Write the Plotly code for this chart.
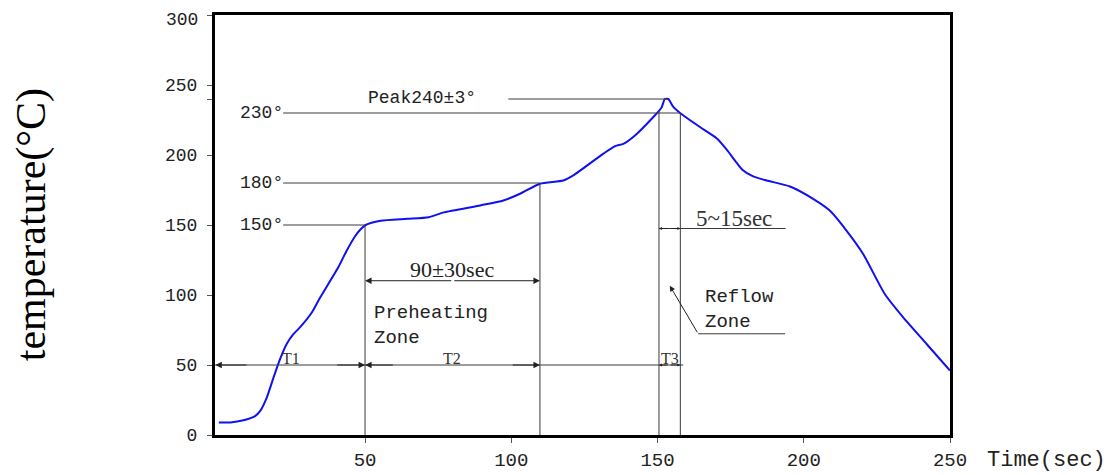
import plotly.graph_objects as go

# ---- data ----
time_s = [0, 4, 8.4, 12.4, 14.1, 16.4, 18.7, 20.9, 23.2, 25.5, 27.8, 31.8, 34.6, 40.9, 43.8,
          46.6, 48.5, 50.2, 55.3, 64.4, 71.8, 76.9, 89.4, 97.3, 103, 109.8, 117.8, 121.2,
          131.5, 135.5, 138.3, 142.3, 148.5, 151.4, 152.5, 153.7, 155.4, 157.7, 164.5,
          170.2, 173.6, 176.5, 179, 182.7, 187.3, 195.3, 203.2, 208.9, 214.6, 220.3,
          227.7, 234, 242, 250]
temp_c = [9, 9, 10.5, 13.5, 17, 26.7, 41, 54, 65, 72, 77, 87.5, 98, 120, 132,
          142, 147, 150, 153, 154.4, 155.6, 159, 164, 167.5, 172.3, 179.5, 181.8, 185.4,
          201, 206.4, 208, 214, 227, 234, 240, 240, 234.3, 230, 220,
          212, 204, 196, 189.5, 184.7, 181.8, 177.5, 168.7, 160.3, 146, 129.3,
          100.7, 84, 65, 46]

x_tick_vals = [50, 100, 150, 200, 250]
x_tick_text = ["50", "100", "150", "200", "250"]
y_tick_vals = [0, 50, 100, 150, 200, 240, 250, 300]
y_tick_text = ["0", "50", "100", "150", "200", "", "250", ""]
y_top_value = 300
y_top_label = "300"

level_temps = [150, 180, 230]
level_labels = ["150°", "180°", "230°"]
level_ends = [50, 109.8, 157.8]
peak_temp = 240
zone_bounds = [50, 109.8, 150.5, 157.8]

LINE = "#3a3a3a"
CAD = "Liberation Mono"
SERIF = "Liberation Serif"

fig = go.Figure()
fig.add_trace(go.Scatter(x=time_s, y=temp_c, mode="lines",
                         line=dict(color="#1010f0", width=2, shape="spline", smoothing=0.6),
                         hoverinfo="skip", showlegend=False))

shapes = []
annotations = []

def hline(x0, x1, y):
    shapes.append(dict(type="line", xref="x", yref="y", x0=x0, x1=x1, y0=y, y1=y,
                       line=dict(color=LINE, width=1)))

def vline(x, y0, y1):
    shapes.append(dict(type="line", xref="x", yref="y", x0=x, x1=x, y0=y0, y1=y1,
                       line=dict(color=LINE, width=1)))

def arrow(x_tip, x_from, y, size=1.3):
    annotations.append(dict(x=x_tip, y=y, ax=x_from, ay=y, xref="x", yref="y",
                            axref="x", ayref="y", text="", showarrow=True,
                            arrowhead=2, arrowsize=size, arrowwidth=1, arrowcolor="#222",
                            standoff=0, startstandoff=0))

def text(x, y, s, font, size, xanchor="center", yanchor="middle", align="center", color="#222"):
    annotations.append(dict(x=x, y=y, xref="x", yref="y", text=s, showarrow=False,
                            xanchor=xanchor, yanchor=yanchor, align=align,
                            font=dict(family=font, size=size, color=color)))

# level lines and labels
label_x = 22
for t, lab, xe in zip(level_temps, level_labels, level_ends):
    hline(label_x, xe, t)
    text(label_x + 0.5, t, lab, CAD, 18, xanchor="right")

# peak
hline(99, 153.3, peak_temp)
text(69.6, peak_temp + 1, "Peak240±3°", CAD, 18)

# vertical bounds
vline(zone_bounds[0], 0, 150)
vline(zone_bounds[1], 0, 180)
vline(zone_bounds[2], 0, 231)
vline(zone_bounds[3], 0, 230)

# T dimension line at 50
hline(-2, zone_bounds[3] + 1, 50)
arrow(-1.2, 10, 50)
arrow(zone_bounds[0], 40, 50)
arrow(zone_bounds[0], 60, 50)
arrow(zone_bounds[1], 100, 50)
arrow(zone_bounds[2], 154, 50, 0.6)
arrow(zone_bounds[3], 154, 50, 0.6)
text(24.8, 54.5, "T1", SERIF, 16, color="#333")
text(79.7, 54.5, "T2", SERIF, 16, color="#333")
text(154.1, 54.5, "T3", SERIF, 16, color="#333")

# 90±30 sec
arrow(zone_bounds[0], 80, 110.2)
arrow(zone_bounds[1], 80, 110.2)
text(79.7, 118.2, "90±30sec", SERIF, 22)

# 5~15 sec
hline(zone_bounds[2], 193.8, 147.5)
arrow(zone_bounds[2], 154, 147.5, 0.6)
arrow(zone_bounds[3], 154, 147.5, 0.6)
text(176.3, 155, "5~15sec", SERIF, 23, color="#333")

# zone labels
text(52.4, 78.5, "Preheating<br>Zone", CAD, 19, xanchor="left", align="left")
text(165.6, 89.8, "Reflow<br>Zone", CAD, 19, xanchor="left", align="left")
hline(163.9, 193.6, 72.3)
annotations.append(dict(x=154.2, y=106.6, ax=163.9, ay=72.3, xref="x", yref="y",
                        axref="x", ayref="y", text="", showarrow=True, arrowhead=2,
                        arrowsize=1.1, arrowwidth=1, arrowcolor="#222", standoff=0))

# top y tick label (kept inside the page)
annotations.append(dict(x=0, y=y_top_value, xref="paper", yref="y", text=y_top_label,
                        showarrow=False, xanchor="right", yanchor="top", xshift=-16,
                        yshift=6, borderpad=0,
                        font=dict(family=CAD, size=18, color="#222")))

# axis titles
annotations.append(dict(x=-0.25, y=0.5, xref="paper", yref="paper",
                        xanchor="center", yanchor="middle",
                        text="temperature(°C)", textangle=-90, showarrow=False,
                        font=dict(family=SERIF, size=42, color="#000")))
annotations.append(dict(x=1.048, y=-0.06, xref="paper", yref="paper", text="Time(sec)",
                        showarrow=False, xanchor="left", yanchor="middle",
                        font=dict(family=CAD, size=22, color="#222")))

fig.update_layout(
    width=1110, height=467,
    margin=dict(l=207, r=168, t=7, b=40),
    paper_bgcolor="white", plot_bgcolor="white",
    shapes=shapes, annotations=annotations,
    showlegend=False,
    xaxis=dict(range=[-1.3, 250], tickvals=x_tick_vals, ticktext=x_tick_text,
               showgrid=False, zeroline=False, showline=True, mirror=True,
               linecolor="black", linewidth=3, ticks="outside", ticklen=5,
               tickcolor="#555", ticklabelstandoff=0, automargin=False,
               ticklabeloverflow="allow",
               tickfont=dict(family=CAD, size=19, color="#222")),
    yaxis=dict(range=[0, 300], tickvals=y_tick_vals, ticktext=y_tick_text,
               showgrid=False, zeroline=False, showline=True, mirror=True,
               linecolor="black", linewidth=3, ticks="outside", ticklen=5,
               tickcolor="#555", ticklabelstandoff=6, automargin=False,
               ticklabeloverflow="allow",
               tickfont=dict(family=CAD, size=18, color="#222")),
)

fig.write_html("out.html")
